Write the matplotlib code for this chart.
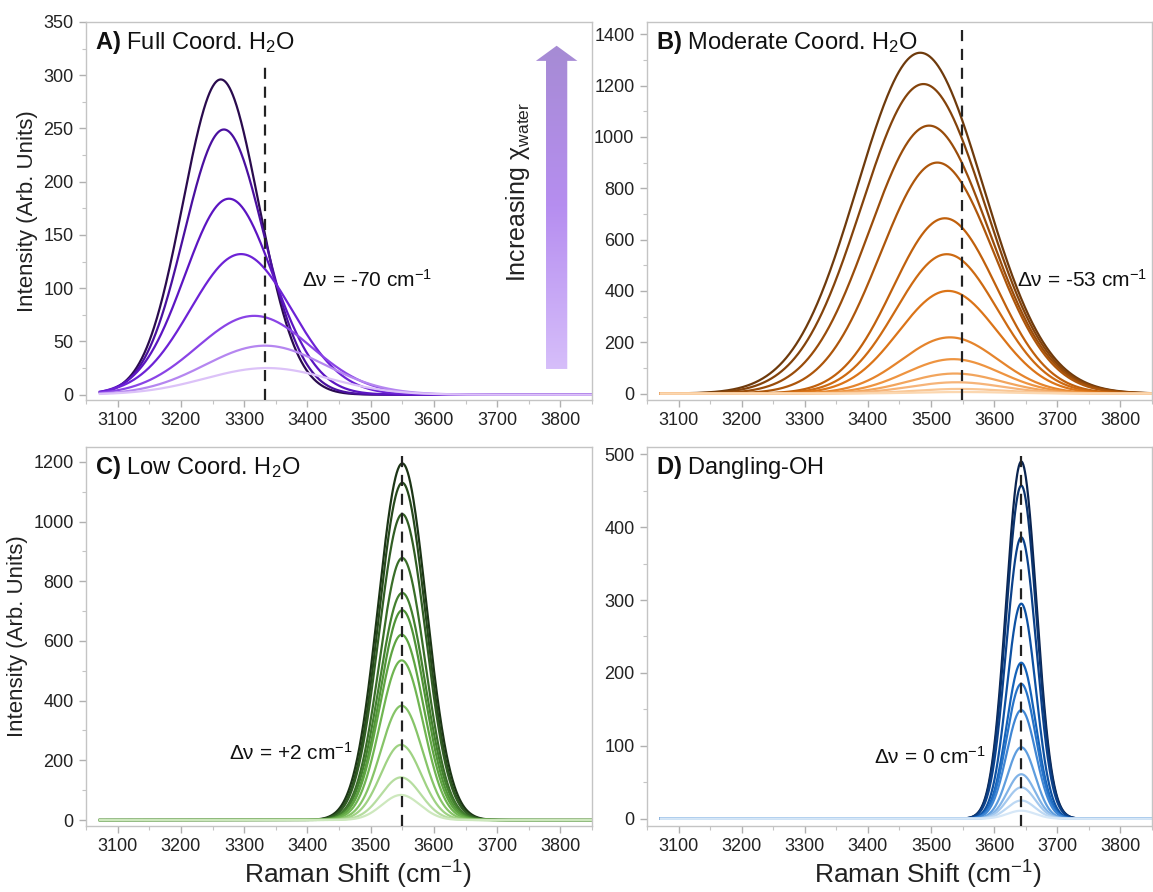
"""
Componentes gaussianas del espectro Raman OH por tipo de coordinación.
Cuatro paneles: A) Full Coord., B) Moderate Coord., C) Low Coord., D) Dangling-OH
"""

import numpy as np
import matplotlib
matplotlib.use("Agg")
import matplotlib.pyplot as plt
from matplotlib.colors import LinearSegmentedColormap
from matplotlib.patches import Polygon

plt.rcParams["font.family"] = ["Liberation Sans", "DejaVu Sans"]
plt.rcParams["mathtext.fontset"] = "custom"
plt.rcParams["mathtext.rm"] = "Liberation Sans"
plt.rcParams["mathtext.it"] = "Liberation Sans:italic"
plt.rcParams["mathtext.bf"] = "Liberation Sans:bold"

# ------------------------------------------------------------------
# Datos: parámetros de cada componente (mayor -> menor chi_water)
# ------------------------------------------------------------------
shift_start = 3072
shift_end = 3850

full_centers = [3263, 3268, 3276, 3295, 3316, 3333, 3336]
full_heights = [296, 249, 184, 132, 74, 46, 25]
full_sigmas = [60, 63, 70, 80, 90, 95, 98]

mod_centers = [3483, 3488, 3497, 3510, 3522, 3525, 3527, 3530, 3535, 3538, 3540, 3546, 3549]
mod_heights = [1328, 1206, 1044, 900, 683, 543, 400, 219, 134, 78, 44, 18, 6]
mod_sigmas = [100, 98, 95, 90, 82, 80, 78, 76, 75, 74, 73, 72, 72]

low_centers = [3550, 3550, 3550, 3550, 3550, 3550, 3549, 3549, 3549, 3548, 3548, 3548]
low_heights = [1195, 1130, 1025, 878, 761, 703, 621, 535, 383, 252, 143, 84]
low_sigmas = [38, 37, 37, 36, 36, 35, 35, 34, 33, 32, 31, 30]

dang_centers = [3643, 3643, 3643, 3643, 3643, 3643, 3643, 3643, 3643, 3643, 3643, 3643]
dang_heights = [490, 457, 386, 295, 214, 185, 149, 98, 61, 43, 25, 11]
dang_sigmas = [24, 24, 24, 23, 23, 23, 23, 22, 22, 22, 22, 22]

ref_lines = [3333, 3549, 3550, 3643]
shift_labels = ["Δν = -70 cm$^{-1}$", "Δν = -53 cm$^{-1}$",
                "Δν = +2 cm$^{-1}$", "Δν = 0 cm$^{-1}$"]
titles = [r"$\mathbf{A)}$ Full Coord. H$_2$O", r"$\mathbf{B)}$ Moderate Coord. H$_2$O",
          r"$\mathbf{C)}$ Low Coord. H$_2$O", r"$\mathbf{D)}$ Dangling-OH"]

x_ticks = [3100, 3200, 3300, 3400, 3500, 3600, 3700, 3800]


def gaussian(x, center, height, sigma):
    return height * np.exp(-0.5 * ((x - center) / sigma) ** 2)


def style_axes(ax, ylim, yticks, yminor):
    ax.set_xlim(3050, 3850)
    ax.set_ylim(*ylim)
    ax.set_xticks(x_ticks)
    ax.set_xticks(np.arange(3050, 3851, 50), minor=True)
    ax.set_yticks(yticks)
    ax.set_yticks(yminor, minor=True)
    for sp in ax.spines.values():
        sp.set_color("#c4c4c4")
        sp.set_linewidth(1.0)
    ax.tick_params(axis="both", which="major", direction="out", length=5,
                   width=1, color="#b0b0b0", labelsize=13, labelcolor="#222222", pad=4)
    ax.tick_params(axis="both", which="minor", direction="out", length=3,
                   width=0.8, color="#c4c4c4")


def draw_curves(ax, x, centers, heights, sigmas, cmap):
    n = len(centers)
    for i, (c, h, s) in enumerate(zip(centers, heights, sigmas)):
        color = cmap(i / (n - 1))
        ax.plot(x, gaussian(x, c, h, s), color=color, linewidth=1.6, zorder=2)


def gradient_arrow(ax):
    """Flecha con degradado (decorativa) en coordenadas de ejes."""
    xc, hw, bw = 0.930, 0.041, 0.021
    tip, base, bottom = 0.937, 0.897, 0.082
    verts = [(xc - bw, bottom), (xc - bw, base), (xc - hw, base), (xc, tip),
             (xc + hw, base), (xc + bw, base), (xc + bw, bottom)]
    poly = Polygon(verts, closed=True, transform=ax.transAxes,
                   facecolor="none", edgecolor="none")
    ax.add_patch(poly)
    cmap = LinearSegmentedColormap.from_list("arr", ["#d6befa", "#b68ef0", "#a68bd4"])
    grad = np.linspace(0, 1, 256).reshape(-1, 1)
    im = ax.imshow(grad, cmap=cmap, origin="lower", aspect="auto",
                   extent=[xc - hw, xc + hw, bottom, tip],
                   transform=ax.transAxes, zorder=1, interpolation="bilinear")
    im.set_clip_path(poly)
    ax.text(0.854, 0.55, r"Increasing χ$_{\mathrm{water}}$", rotation=90,
            transform=ax.transAxes, ha="center", va="center", fontsize=18,
            color="#222222")


def main():
    x = np.linspace(shift_start, shift_end, 1200)

    fig = plt.figure(figsize=(11.53, 8.92), dpi=100)
    ax_a = fig.add_axes([0.0746, 0.5516, 0.4389, 0.4238])
    ax_b = fig.add_axes([0.5611, 0.5516, 0.4380, 0.4238])
    ax_c = fig.add_axes([0.0746, 0.0740, 0.4389, 0.4249])
    ax_d = fig.add_axes([0.5611, 0.0740, 0.4380, 0.4249])

    purple = LinearSegmentedColormap.from_list(
        "p", ["#2a0b4e", "#4a10a0", "#5c15c2", "#6d22d6", "#8a44e6", "#b585f0", "#dcc2f8"])
    orange = LinearSegmentedColormap.from_list(
        "o", ["#6e3a0c", "#9a4c0a", "#c0600c", "#db7418", "#ee9440", "#f6b478", "#fbd7b0"])
    green = LinearSegmentedColormap.from_list(
        "g", ["#1c3516", "#2f5a22", "#3f7a2c", "#559c3b", "#75bb56", "#a3d487", "#cde8bd"])
    blue = LinearSegmentedColormap.from_list(
        "b", ["#0a2450", "#0b3f86", "#0e5cb4", "#2f7bcf", "#69a5e2", "#a8cbef", "#d6e7f7"])

    draw_curves(ax_a, x, full_centers, full_heights, full_sigmas, purple)
    draw_curves(ax_b, x, mod_centers, mod_heights, mod_sigmas, orange)
    draw_curves(ax_c, x, low_centers, low_heights, low_sigmas, green)
    draw_curves(ax_d, x, dang_centers, dang_heights, dang_sigmas, blue)

    style_axes(ax_a, (-5, 350), np.arange(0, 351, 50), np.arange(0, 351, 25))
    style_axes(ax_b, (-25, 1448), np.arange(0, 1401, 200), np.arange(0, 1401, 100))
    style_axes(ax_c, (-20, 1250), np.arange(0, 1201, 200), np.arange(0, 1201, 100))
    style_axes(ax_d, (-10, 510), np.arange(0, 501, 100), np.arange(0, 501, 50))

    axes = [ax_a, ax_b, ax_c, ax_d]
    label_pos = [(0.427, 0.317), (0.733, 0.317), (0.283, 0.193), (0.450, 0.182)]
    for ax, xr, lab, title, (lx, ly) in zip(axes, ref_lines, shift_labels, titles, label_pos):
        ax.axvline(xr, ymax=0.98 if ax is not ax_a else 0.895, color="#222222",
                   linestyle=(0, (5, 3.5)), linewidth=1.6, zorder=3)
        ax.text(lx, ly, lab, transform=ax.transAxes, ha="left", va="center",
                fontsize=15, color="#111111")
        ax.text(0.018, 0.945, title, transform=ax.transAxes, ha="left", va="center",
                fontsize=17, color="#111111")

    gradient_arrow(ax_a)

    for ax in (ax_a, ax_c):
        ax.set_ylabel("Intensity (Arb. Units)", fontsize=16, color="#222222", labelpad=4)
    # etiqueta del eje x (algo desplazada a la derecha, como en el original)
    for ax, xl in ((ax_c, 0.5375), (ax_d, 0.556)):
        ax.text(xl, -0.152, "Raman Shift (cm$^{-1}$)", transform=ax.transAxes,
                ha="center", va="baseline", fontsize=19, color="#222222")

    fig.savefig("out.png", dpi=100)
    plt.close(fig)


if __name__ == "__main__":
    main()
